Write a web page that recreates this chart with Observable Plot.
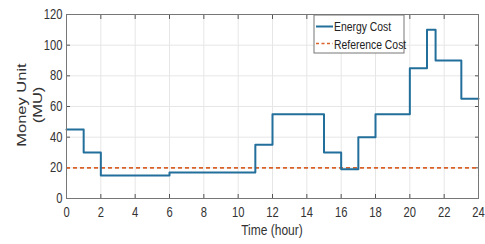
<!DOCTYPE html>
<html>
<head>
<meta charset="utf-8">
<script src="https://cdn.jsdelivr.net/npm/d3@7"></script>
<script src="https://cdn.jsdelivr.net/npm/@observablehq/plot@0.6"></script>
<style>
html,body{margin:0;padding:0;background:#fff;}
</style>
</head>
<body>
<div id="chart"></div>
<script>
const hours = [0, 1, 2, 6, 11, 12, 15, 16, 17, 18, 20, 21, 21.5, 23, 24];
const energyCost = [45, 30, 15, 17, 35, 55, 30, 19, 40, 55, 85, 110, 90, 65, 65];
const referenceCost = 20;
const xTicks = [0,2,4,6,8,10,12,14,16,18,20,22,24];
const yTicks = [0,20,40,60,80,100,120];
const seriesNames = ["Energy Cost", "Reference Cost"];

const energy = hours.map((h, i) => ({h, v: energyCost[i]}));
const blue = "#236f9b", orange = "#d9612a";
const FONT = "'Liberation Sans',Arial,Helvetica,sans-serif";
const SX = 0.8; // horizontal squeeze seen in the reference text

const plot = Plot.plot({
  width: 485, height: 244,
  marginLeft: 66, marginRight: 7, marginTop: 14, marginBottom: 46,
  style: {fontSize: "14px", fontFamily: FONT, color: "#333", background: "#fff"},
  x: {domain: [0, 24], ticks: xTicks},
  y: {domain: [0, 120], ticks: yTicks},
  marks: [
    Plot.gridX(xTicks, {stroke: "#e6e6e6", strokeOpacity: 1}),
    Plot.gridY(yTicks, {stroke: "#e6e6e6", strokeOpacity: 1}),
    Plot.axisX(xTicks, {tickSize: 0, tickPadding: 9, label: null, fill: "#333", fontSize: 14}),
    Plot.axisY(yTicks, {tickSize: 0, tickPadding: 4, label: null, fill: "#333", fontSize: 14}),
    Plot.axisX(xTicks, {anchor: "bottom", tickSize: -4, tickFormat: () => "", label: null, stroke: "#555"}),
    Plot.axisX(xTicks, {anchor: "top", tickSize: -4, tickFormat: () => "", label: null, stroke: "#555"}),
    Plot.axisY(yTicks, {anchor: "left", tickSize: -4, tickFormat: () => "", label: null, stroke: "#555"}),
    Plot.axisY(yTicks, {anchor: "right", tickSize: -4, tickFormat: () => "", label: null, stroke: "#555"}),
    Plot.ruleY([referenceCost], {stroke: orange, strokeWidth: 1.6, strokeDasharray: "4,3"}),
    Plot.line(energy, {x: "h", y: "v", curve: "step-after", stroke: blue, strokeWidth: 2}),
    Plot.frame({stroke: "#777", strokeWidth: 1})
  ]
});

const svg = d3.select(plot);
// squeeze tick labels horizontally
svg.selectAll("text").each(function () {
  const t = this.getAttribute("transform");
  if (t && this.textContent !== "") this.setAttribute("transform", t + ` scale(${SX},1)`);
});

// axis titles
svg.append("text").attr("transform", `translate(26,105) scale(${SX},1) rotate(-90)`)
  .attr("text-anchor", "middle").attr("font-size", 16.5).attr("fill", "#333").text("Money Unit");
svg.append("text").attr("transform", `translate(42,105) scale(${SX},1) rotate(-90)`)
  .attr("text-anchor", "middle").attr("font-size", 16.5).attr("fill", "#333").text("(MU)");
svg.append("text").attr("transform", `translate(272,235) scale(${SX},1)`).attr("text-anchor", "middle")
  .attr("font-size", 15).attr("fill", "#333").text("Time (hour)");

// legend
const lg = svg.append("g").attr("text-anchor", "start");
lg.append("rect").attr("x", 314).attr("y", 15).attr("width", 90).attr("height", 38)
  .attr("fill", "#fff").attr("stroke", "#777");
lg.append("line").attr("x1", 316).attr("x2", 333).attr("y1", 26.5).attr("y2", 26.5)
  .attr("stroke", blue).attr("stroke-width", 2);
lg.append("line").attr("x1", 316).attr("x2", 333).attr("y1", 43.5).attr("y2", 43.5)
  .attr("stroke", orange).attr("stroke-width", 1.6).attr("stroke-dasharray", "3,2.5");
lg.append("text").attr("transform", `translate(334,31) scale(${SX},1)`).attr("font-size", 13).attr("fill", "#222").text(seriesNames[0]);
lg.append("text").attr("transform", `translate(334,48.5) scale(${SX},1)`).attr("font-size", 13).attr("fill", "#222").text(seriesNames[1]);

document.getElementById("chart").appendChild(plot);
</script>
</body>
</html>
